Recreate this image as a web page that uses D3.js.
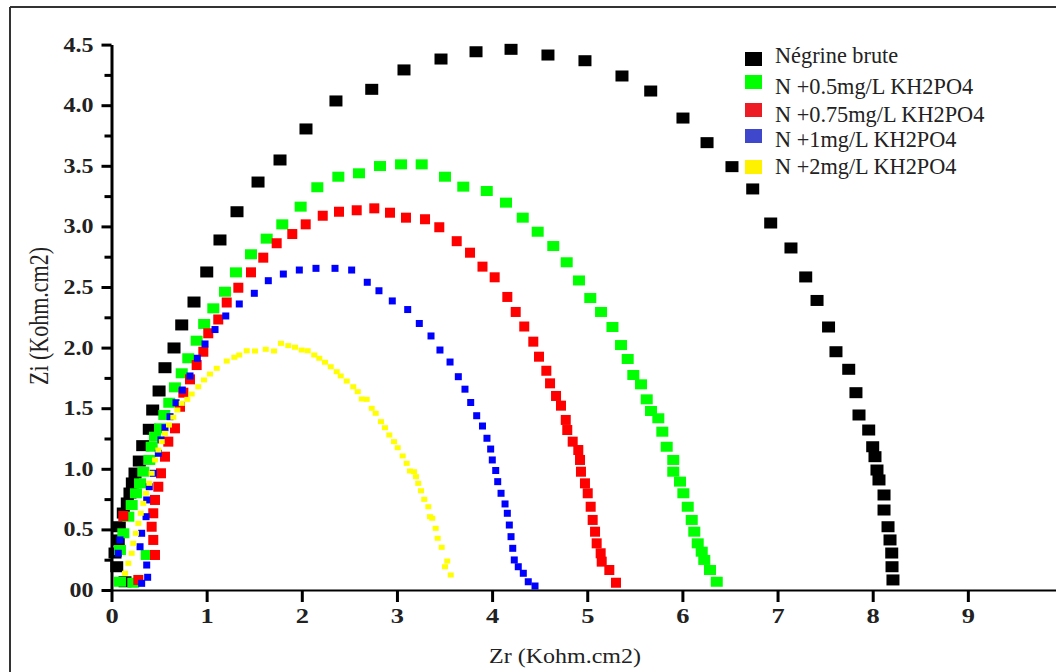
<!DOCTYPE html>
<html>
<head>
<meta charset="utf-8">
<script src="https://cdn.jsdelivr.net/npm/d3@7"></script>
<style>
  html, body { margin: 0; padding: 0; background: #fff; }
  svg { display: block; }
  svg text { font-family: "Liberation Serif", "Times New Roman", Tinos, "DejaVu Serif", serif !important; }
</style>
</head>
<body>
<svg id="chart" width="1056" height="672"></svg>
<script>
// ---------- DATA (Zr, Zi in Kohm.cm2) ----------
const seriesNames = ["Négrine brute", "N +0.5mg/L KH2PO4", "N +0.75mg/L KH2PO4", "N +1mg/L KH2PO4", "N +2mg/L KH2PO4"];

const negrine = [
  [0.142,0.068],[0.055,0.192],[0.037,0.305],[0.071,0.413],[0.082,0.522],[0.124,0.635],[0.166,0.718],
  [0.194,0.800],[0.219,0.883],[0.247,0.965],[0.292,1.064],[0.328,1.191],[0.397,1.326],[0.433,1.485],
  [0.500,1.642],[0.562,1.834],[0.657,1.997],[0.738,2.187],[0.867,2.376],[1.001,2.624],[1.140,2.888],
  [1.319,3.121],[1.540,3.366],[1.771,3.548],[2.044,3.804],[2.359,4.035],[2.735,4.131],[3.074,4.291],
  [3.463,4.381],[3.831,4.441],[4.199,4.461],[4.587,4.414],[4.976,4.367],[5.365,4.241],[5.667,4.117],
  [6.006,3.894],[6.259,3.691],[6.521,3.493],[6.739,3.309],[6.928,3.028],[7.141,2.822],[7.296,2.583],
  [7.415,2.389],[7.536,2.170],[7.614,1.966],[7.748,1.821],[7.824,1.628],[7.856,1.444],[7.958,1.320],
  [8.000,1.182],[8.024,1.100],[8.045,0.990],[8.066,0.908],[8.119,0.784],[8.119,0.660],[8.161,0.522],
  [8.182,0.413],[8.200,0.305],[8.203,0.192],[8.213,0.083]
];

const n05 = [
  [0.229,0.060],[0.089,0.068],[0.370,0.289],[0.089,0.330],[0.124,0.468],[0.177,0.605],[0.212,0.701],
  [0.257,0.798],[0.300,0.880],[0.334,0.976],[0.397,1.073],[0.422,1.182],[0.457,1.265],[0.510,1.334],
  [0.555,1.444],[0.607,1.545],[0.667,1.672],[0.738,1.788],[0.807,1.912],[0.895,2.057],[0.974,2.195],
  [1.070,2.324],[1.193,2.461],[1.308,2.621],[1.466,2.770],[1.631,2.899],[1.795,3.017],[1.988,3.163],
  [2.163,3.323],[2.384,3.410],[2.601,3.438],[2.822,3.498],[3.043,3.512],[3.260,3.512],[3.505,3.410],
  [3.697,3.328],[3.944,3.292],[4.146,3.196],[4.322,3.072],[4.479,2.956],[4.643,2.838],[4.784,2.704],
  [4.913,2.554],[5.032,2.409],[5.145,2.294],[5.265,2.170],[5.355,2.021],[5.425,1.906],[5.484,1.774],
  [5.565,1.697],[5.625,1.573],[5.670,1.477],[5.747,1.417],[5.789,1.306],[5.835,1.182],[5.904,1.073],
  [5.904,0.976],[5.975,0.894],[6.010,0.798],[6.056,0.687],[6.098,0.578],[6.125,0.481],[6.161,0.385],
  [6.203,0.316],[6.230,0.248],[6.290,0.165],[6.361,0.068]
];

const n075 = [
  [0.282,0.083],[0.124,0.611],[0.457,0.289],[0.439,0.413],[0.422,0.522],[0.439,0.633],[0.457,0.743],
  [0.492,0.852],[0.520,0.963],[0.562,1.100],[0.597,1.224],[0.667,1.334],[0.720,1.512],[0.755,1.628],
  [0.825,1.738],[0.895,1.856],[0.965,1.966],[1.017,2.118],[1.122,2.232],[1.211,2.372],[1.333,2.494],
  [1.466,2.621],[1.595,2.742],[1.736,2.861],[1.900,2.937],[2.041,3.017],[2.220,3.088],[2.391,3.121],
  [2.577,3.133],[2.762,3.149],[2.927,3.113],[3.095,3.072],[3.295,3.059],[3.445,2.993],[3.628,2.878],
  [3.768,2.783],[3.899,2.668],[4.027,2.580],[4.160,2.418],[4.248,2.294],[4.338,2.174],[4.433,2.049],
  [4.493,1.925],[4.570,1.809],[4.609,1.705],[4.672,1.601],[4.724,1.521],[4.774,1.403],[4.790,1.320],
  [4.847,1.224],[4.906,1.155],[4.924,1.073],[4.934,0.976],[4.976,0.880],[5.005,0.798],[5.036,0.687],
  [5.057,0.578],[5.082,0.481],[5.099,0.385],[5.141,0.303],[5.152,0.234],[5.232,0.165],[5.302,0.060]
];

const n1 = [
  [0.317,0.055],[0.380,0.105],[0.370,0.206],[0.071,0.303],[0.089,0.413],[0.300,0.357],[0.317,0.468],
  [0.363,0.605],[0.370,0.743],[0.397,0.852],[0.439,0.963],[0.492,1.128],[0.520,1.238],[0.562,1.339],
  [0.615,1.430],[0.678,1.545],[0.744,1.650],[0.825,1.766],[0.902,1.912],[0.983,2.030],[1.088,2.149],
  [1.201,2.261],[1.343,2.360],[1.501,2.448],[1.648,2.552],[1.806,2.607],[1.974,2.640],[2.149,2.654],
  [2.349,2.654],[2.524,2.640],[2.688,2.539],[2.811,2.469],[2.951,2.385],[3.113,2.314],[3.235,2.199],
  [3.358,2.096],[3.452,1.980],[3.558,1.881],[3.645,1.760],[3.715,1.657],[3.775,1.547],[3.838,1.438],
  [3.899,1.353],[3.946,1.252],[3.985,1.163],[4.002,1.073],[4.038,0.986],[4.059,0.894],[4.094,0.798],
  [4.136,0.710],[4.160,0.633],[4.181,0.536],[4.199,0.440],[4.217,0.344],[4.233,0.248],[4.275,0.192],
  [4.328,0.138],[4.380,0.068],[4.451,0.033]
];

const n2 = [
  [0.142,0.138],[0.177,0.220],[0.212,0.303],[0.229,0.385],[0.257,0.468],[0.282,0.550],[0.307,0.633],
  [0.334,0.715],[0.363,0.798],[0.397,0.880],[0.422,0.963],[0.457,1.073],[0.492,1.155],[0.528,1.224],
  [0.562,1.293],[0.604,1.361],[0.650,1.425],[0.692,1.485],[0.738,1.540],[0.797,1.573],[0.843,1.617],
  [0.912,1.677],[0.972,1.733],[1.035,1.782],[1.106,1.829],[1.211,1.889],[1.291,1.920],[1.343,1.939],
  [1.421,1.974],[1.508,1.972],[1.621,1.986],[1.708,1.972],[1.781,2.035],[1.858,2.016],[1.929,2.003],
  [1.999,1.980],[2.062,1.974],[2.131,1.939],[2.184,1.912],[2.244,1.879],[2.304,1.842],[2.367,1.801],
  [2.409,1.766],[2.472,1.724],[2.541,1.677],[2.588,1.636],[2.630,1.576],[2.682,1.573],[2.735,1.499],
  [2.777,1.458],[2.832,1.389],[2.874,1.339],[2.920,1.279],[2.969,1.224],[3.008,1.174],[3.060,1.106],
  [3.102,1.045],[3.137,0.982],[3.179,0.976],[3.200,0.935],[3.224,0.880],[3.253,0.819],[3.287,0.748],
  [3.330,0.687],[3.347,0.605],[3.371,0.592],[3.407,0.509],[3.428,0.427],[3.470,0.352],[3.529,0.239],
  [3.505,0.192],[3.565,0.124]
];

const xTicks = [0,1,2,3,4,5,6,7,8,9];
const yTicks = [0,0.5,1,1.5,2,2.5,3,3.5,4,4.5];
const yTickLabels = ["00","0.5","1.0","1.5","2.0","2.5","3.0","3.5","4.0","4.5"];
const yMinorTicks = [0.25,0.75,1.25,1.75,2.25,2.75,3.25,3.75,4.25];
const xTitle = "Zr (Kohm.cm2)";
const yTitle = "Zi (Kohm.cm2)";

// ---------- STYLE ----------
const allSeries = [negrine, n05, n075, n1, n2];
const colors = ["#000000", "#00ff00", "#ff0000", "#0000ff", "#ffff00"];
const legendColors = ["#000000", "#00ff00", "#ed1c24", "#3f48cc", "#fff200"];
const markW = [13, 12, 10, 7, 6];
const markH = [11, 10, 10, 7, 5];

const svg = d3.select("#chart");

// outer frame lines
svg.append("line").attr("x1", 10).attr("x2", 1056).attr("y1", 7).attr("y2", 7)
  .attr("stroke", "#333").attr("stroke-width", 2);
svg.append("line").attr("x1", 10).attr("x2", 10).attr("y1", 7).attr("y2", 672)
  .attr("stroke", "#333").attr("stroke-width", 2);

const x = d3.scaleLinear().domain([0, 10]).range([111.5, 1063]);
const y = d3.scaleLinear().domain([0, 4.5]).range([590, 44.6]);

// marks
allSeries.forEach((s, i) => {
  svg.append("g").selectAll("rect").data(s).join("rect")
    .attr("x", d => x(d[0]) - markW[i] / 2)
    .attr("y", d => y(d[1]) - markH[i] / 2)
    .attr("width", markW[i])
    .attr("height", markH[i])
    .attr("fill", colors[i]);
});

const serif = "'Liberation Serif', 'Times New Roman', Tinos, 'DejaVu Serif', serif";

// x axis
const gx = svg.append("g").attr("transform", `translate(0,${y(0)})`)
  .call(d3.axisBottom(x).tickValues(xTicks).tickSize(12).tickSizeOuter(0).tickPadding(5).tickFormat(d3.format("d")));
gx.attr("font-family", serif);
gx.select(".domain").attr("stroke", "#000").attr("stroke-width", 2);
gx.selectAll(".tick line").attr("stroke", "#000").attr("stroke-width", 3);
gx.selectAll(".tick text").attr("font-size", 22).attr("font-weight", "bold")
  .attr("fill", "#222").attr("transform", "scale(1.2,1)");

// y axis minor
const gyMinor = svg.append("g").attr("transform", `translate(${x(0)},0)`)
  .call(d3.axisLeft(y).tickValues(yMinorTicks).tickSize(7).tickFormat(""));
gyMinor.select(".domain").remove();
gyMinor.selectAll(".tick line").attr("stroke", "#000").attr("stroke-width", 3);

// y axis major
const gy = svg.append("g").attr("transform", `translate(${x(0)},0)`)
  .call(d3.axisLeft(y).tickValues(yTicks).tickSize(10).tickSizeOuter(0).tickPadding(5)
    .tickFormat((d, i) => yTickLabels[i]));
gy.attr("font-family", serif);
gy.select(".domain").attr("stroke", "#000").attr("stroke-width", 3);
gy.selectAll(".tick line").attr("stroke", "#000").attr("stroke-width", 3);
gy.selectAll(".tick text").attr("font-size", 20).attr("font-weight", "bold")
  .attr("fill", "#222").attr("transform", "scale(1.2,1)");

// axis titles
svg.append("text").text(xTitle).attr("font-family", serif)
  .attr("transform", "translate(565,663) scale(1.2,1)")
  .attr("text-anchor", "middle").attr("font-size", 20).attr("fill", "#222");
svg.append("text").text(yTitle).attr("font-family", serif)
  .attr("transform", "translate(48,316) scale(1.2,1) rotate(-90)")
  .attr("text-anchor", "middle").attr("font-size", 22).attr("fill", "#222");

// legend
const legendY = [59, 82, 110, 136, 167];
const legendTextY = [63, 94, 121.5, 146.5, 174];
const lg = svg.append("g").attr("font-family", serif);
seriesNames.forEach((name, i) => {
  lg.append("rect").attr("x", 745).attr("y", legendY[i] - 7).attr("width", 17).attr("height", 14)
    .attr("fill", legendColors[i]);
  lg.append("text").text(name)
    .attr("transform", `translate(775,${legendTextY[i]}) scale(0.97,1)`)
    .attr("font-size", 23).attr("fill", "#222");
});
</script>
</body>
</html>
